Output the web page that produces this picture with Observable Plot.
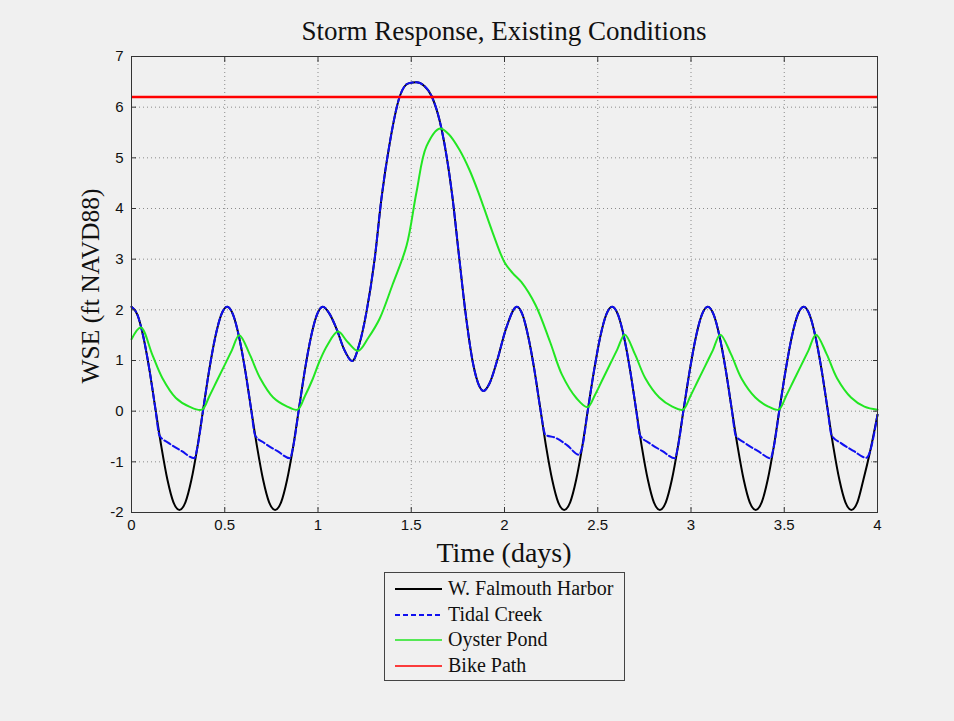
<!DOCTYPE html>
<html><head><meta charset="utf-8">
<script src="https://cdn.jsdelivr.net/npm/d3@7"></script>
<script src="https://cdn.jsdelivr.net/npm/@observablehq/plot@0.6"></script>
<style>
html,body{margin:0;padding:0;background:#f0f0f0;}
#fig{position:relative;width:954px;height:721px;background:#f0f0f0;overflow:hidden;}
#fig svg.plot{position:absolute;left:0;top:0;}
.serif{font-family:"Liberation Serif","Times New Roman",serif;color:#111;position:absolute;white-space:nowrap;}
#title{left:131px;width:746px;text-align:center;top:16px;font-size:27px;line-height:30px;}
#xlabel{left:131px;width:746px;text-align:center;top:537px;font-size:28px;line-height:32px;}
#ylabel{left:91px;top:286px;font-size:25.5px;line-height:30px;transform:translate(-50%,-50%) rotate(-90deg);}
#legend{position:absolute;left:384px;top:572px;width:241px;height:109px;border:1px solid #444;background:#f0f0f0;box-sizing:border-box;}
.row{position:absolute;left:0;height:24px;}
.row svg{position:absolute;left:10px;top:6px;}
.row span{position:absolute;left:63px;top:-1px;font-family:"Liberation Serif","Times New Roman",serif;font-size:20px;line-height:24px;color:#111;white-space:nowrap;}
</style></head>
<body>
<div id="fig">
  <div id="title" class="serif">Storm Response, Existing Conditions</div>
  <div id="xlabel" class="serif">Time (days)</div>
  <div id="ylabel" class="serif">WSE (ft NAVD88)</div>
  <div id="legend"></div>
</div>
<script>
// ---- data ----
const seriesNames = ["W. Falmouth Harbor", "Tidal Creek", "Oyster Pond", "Bike Path"];
const xTicks = [0, 0.5, 1, 1.5, 2, 2.5, 3, 3.5, 4];
const yTicks = [-2, -1, 0, 1, 2, 3, 4, 5, 6, 7];
const bikePath = [6.2];

// [time (days), WSE (ft)]
const harbor = [
  [0,2.06],[0.032,1.90],[0.064,1.46],[0.096,0.82],[0.128,0.05],[0.161,-0.72],[0.193,-1.36],[0.225,-1.80],
  [0.257,-1.95],[0.289,-1.80],[0.321,-1.36],[0.353,-0.72],[0.385,0.05],[0.417,0.82],[0.449,1.46],[0.481,1.90],
  [0.513,2.06],[0.545,1.90],[0.577,1.46],[0.609,0.82],[0.641,0.05],[0.674,-0.72],[0.706,-1.36],[0.738,-1.80],
  [0.770,-1.95],[0.802,-1.80],[0.834,-1.36],[0.866,-0.72],[0.898,0.05],[0.930,0.82],[0.962,1.46],[0.994,1.90],
  [1.026,2.06],[1.062,1.92],[1.10,1.62],[1.14,1.22],[1.184,0.99],[1.22,1.3],[1.26,1.96],[1.304,3.01],
  [1.34,4.19],[1.385,5.3],[1.439,6.22],[1.485,6.47],[1.528,6.49],[1.57,6.42],[1.609,6.22],[1.663,5.56],
  [1.72,4.25],[1.755,3.1],[1.788,2.03],[1.833,0.91],[1.862,0.52],[1.887,0.4],[1.92,0.55],[1.959,0.98],
  [2.01,1.65],[2.066,2.06],[2.097,1.90],[2.128,1.46],[2.160,0.82],[2.192,0.05],[2.224,-0.72],[2.256,-1.36],
  [2.288,-1.80],[2.32,-1.95],[2.352,-1.80],[2.384,-1.36],[2.416,-0.72],[2.448,0.05],[2.481,0.82],[2.513,1.46],
  [2.545,1.90],[2.577,2.06],[2.609,1.90],[2.641,1.46],[2.673,0.82],[2.705,0.05],[2.737,-0.72],[2.769,-1.36],
  [2.801,-1.80],[2.833,-1.95],[2.865,-1.80],[2.897,-1.36],[2.929,-0.72],[2.961,0.05],[2.994,0.82],[3.026,1.46],
  [3.058,1.90],[3.09,2.06],[3.122,1.90],[3.154,1.46],[3.186,0.82],[3.218,0.05],[3.251,-0.72],[3.283,-1.36],
  [3.315,-1.80],[3.347,-1.95],[3.379,-1.80],[3.411,-1.36],[3.443,-0.72],[3.475,0.05],[3.508,0.82],[3.54,1.46],
  [3.572,1.90],[3.604,2.06],[3.636,1.90],[3.668,1.46],[3.70,0.82],[3.732,0.05],[3.764,-0.72],[3.796,-1.36],
  [3.828,-1.80],[3.86,-1.95],[3.892,-1.80],[3.924,-1.36],[3.96,-0.8],[4.0,-0.07]
];
const tidalCreek = [
  [0,2.06],[0.032,1.90],[0.064,1.46],[0.096,0.82],[0.128,0.05],[0.15,-0.48],[0.2,-0.63],[0.27,-0.79],
  [0.337,-0.93],[0.353,-0.72],[0.385,0.05],[0.417,0.82],[0.449,1.46],[0.481,1.90],
  [0.513,2.06],[0.545,1.90],[0.577,1.46],[0.609,0.82],[0.641,0.05],[0.663,-0.48],[0.713,-0.63],[0.783,-0.79],
  [0.850,-0.93],[0.866,-0.72],[0.898,0.05],[0.930,0.82],[0.962,1.46],[0.994,1.90],
  [1.026,2.06],[1.062,1.92],[1.10,1.62],[1.14,1.22],[1.184,0.99],[1.22,1.3],[1.26,1.96],[1.304,3.01],
  [1.34,4.19],[1.385,5.3],[1.439,6.22],[1.485,6.47],[1.528,6.49],[1.57,6.42],[1.609,6.22],[1.663,5.56],
  [1.72,4.25],[1.755,3.1],[1.788,2.03],[1.833,0.91],[1.862,0.52],[1.887,0.4],[1.92,0.55],[1.959,0.98],
  [2.01,1.65],[2.066,2.06],[2.097,1.90],[2.128,1.46],[2.160,0.82],[2.192,0.05],[2.22,-0.47],[2.27,-0.52],
  [2.335,-0.67],[2.40,-0.86],[2.416,-0.72],[2.448,0.05],[2.481,0.82],[2.513,1.46],
  [2.545,1.90],[2.577,2.06],[2.609,1.90],[2.641,1.46],[2.673,0.82],[2.705,0.05],[2.727,-0.48],[2.777,-0.63],
  [2.847,-0.79],[2.914,-0.93],[2.929,-0.72],[2.961,0.05],[2.994,0.82],[3.026,1.46],
  [3.058,1.90],[3.09,2.06],[3.122,1.90],[3.154,1.46],[3.186,0.82],[3.218,0.05],[3.24,-0.48],[3.29,-0.63],
  [3.36,-0.79],[3.427,-0.93],[3.443,-0.72],[3.475,0.05],[3.508,0.82],[3.54,1.46],
  [3.572,1.90],[3.604,2.06],[3.636,1.90],[3.668,1.46],[3.70,0.82],[3.732,0.05],[3.754,-0.48],[3.804,-0.63],
  [3.874,-0.79],[3.94,-0.92],[4.0,-0.07]
];
const oysterPond = [
  [0,1.42],[0.05,1.65],[0.112,1.11],[0.166,0.65],[0.238,0.26],[0.31,0.09],[0.378,0.03],[0.418,0.3],[0.458,0.6],
  [0.498,0.9],[0.538,1.2],[0.578,1.5],[0.635,1.11],[0.69,0.65],[0.76,0.27],[0.83,0.1],[0.89,0.03],[0.93,0.3],
  [0.97,0.62],[1.01,1.0],[1.05,1.3],[1.107,1.57],[1.16,1.36],[1.215,1.19],[1.27,1.45],[1.331,1.83],[1.40,2.5],
  [1.475,3.27],[1.528,4.32],[1.582,5.23],[1.654,5.58],[1.70,5.47],[1.76,5.15],[1.81,4.78],[1.86,4.32],[1.936,3.53],
  [2.0,2.94],[2.045,2.72],[2.09,2.55],[2.167,2.09],[2.244,1.37],[2.308,0.72],[2.385,0.26],[2.445,0.08],
  [2.485,0.32],[2.525,0.62],[2.565,0.92],[2.605,1.22],[2.645,1.51],[2.70,1.12],[2.755,0.65],[2.83,0.27],[2.90,0.09],
  [2.957,0.03],[2.997,0.3],[3.037,0.6],[3.077,0.9],[3.117,1.2],[3.157,1.51],[3.215,1.12],[3.27,0.65],[3.345,0.27],
  [3.415,0.09],[3.47,0.03],[3.51,0.3],[3.55,0.6],[3.59,0.9],[3.63,1.2],[3.67,1.51],[3.728,1.12],[3.783,0.65],
  [3.858,0.27],[3.93,0.09],[4.0,0.03]
];

const colors = ["#000000", "#1010f0", "#22e622", "#ff0000"];
const toRows = arr => arr.map(([t, v]) => ({t, v}));

const lineOpts = {x: "t", y: "v", curve: "monotone-x", strokeWidth: 2};
const plot = Plot.plot({
  width: 954, height: 721,
  marginLeft: 131, marginRight: 77, marginTop: 56, marginBottom: 209,
  style: {background: "transparent", fontFamily: "'Liberation Sans', Arial, sans-serif", fontSize: "15px", color: "#111"},
  x: {domain: [0, 4], label: null},
  y: {domain: [-2, 7], label: null},
  marks: [
    Plot.gridX(xTicks, {stroke: "#8a8a8a", strokeOpacity: 1, strokeDasharray: "1,3"}),
    Plot.gridY(yTicks, {stroke: "#8a8a8a", strokeOpacity: 1, strokeDasharray: "1,3"}),
    Plot.line(toRows(harbor), {...lineOpts, stroke: colors[0]}),
    Plot.line(toRows(tidalCreek), {...lineOpts, stroke: colors[1], strokeDasharray: "7,3"}),
    Plot.line(toRows(oysterPond), {...lineOpts, curve: "catmull-rom", stroke: colors[2]}),
    Plot.ruleY(bikePath, {stroke: colors[3], strokeWidth: 2.5}),
    Plot.frame({stroke: "#333", strokeWidth: 1}),
    Plot.axisX(xTicks, {anchor: "bottom", tickSize: -5, tickPadding: 12, tickFormat: d => String(d), stroke: "#333", label: null}),
    Plot.axisX(xTicks, {anchor: "top", tickSize: -5, tickFormat: () => "", stroke: "#333", label: null}),
    Plot.axisY(yTicks, {anchor: "left", tickSize: -5, tickPadding: 13, tickFormat: d => String(d), stroke: "#333", label: null}),
    Plot.axisY(yTicks, {anchor: "right", tickSize: -5, tickFormat: () => "", stroke: "#333", label: null})
  ]
});
document.getElementById("fig").appendChild(plot);

// legend
const legend = document.getElementById("legend");
const dashes = [null, "5,3", null, null];
seriesNames.forEach((name, i) => {
  const row = document.createElement("div");
  row.className = "row";
  row.style.top = (4 + i * 25.5) + "px";
  row.innerHTML = `<svg width="48" height="12"><line x1="0" x2="47" y1="6" y2="6" stroke="${colors[i]}" stroke-width="${i===2||i===3?1.5:2}" ${dashes[i] ? `stroke-dasharray="${dashes[i]}"` : ""}/></svg><span>${name}</span>`;
  legend.appendChild(row);
});
</script>
</body></html>
